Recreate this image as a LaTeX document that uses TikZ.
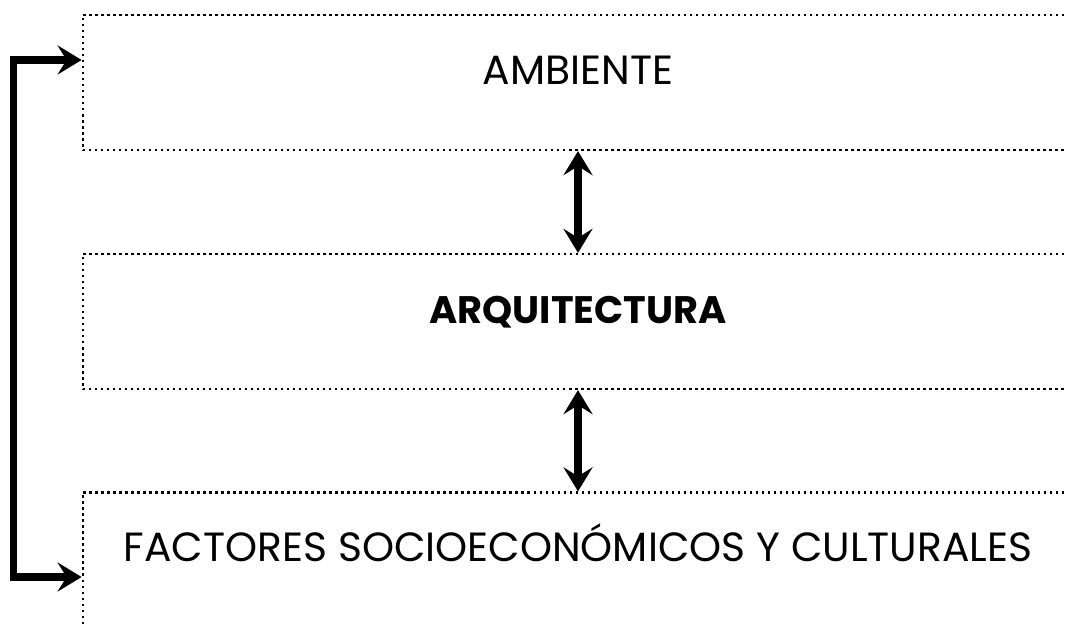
\documentclass[tikz,border=0pt]{standalone}
\usepackage{fontspec}
\setmainfont{Poppins}
\usetikzlibrary{arrows.meta}

\begin{document}
\begin{tikzpicture}[x=0.01cm,y=-0.01cm,
	caja/.style={draw,line width=0.22mm,dash pattern=on 0.25mm off 0.35mm,minimum width=9.9cm,minimum height=1.35cm,text height=3mm,text depth=2.7mm,font=\fontsize{11.6}{14}\selectfont},
	flecha/.style={line width=0.75mm,{Stealth[length=2.4mm,width=2.9mm,inset=0.9mm]}-{Stealth[length=2.4mm,width=2.9mm,inset=0.9mm]}}]
	\useasboundingbox (0,0) rectangle (1067,624);
	\node(ambiente) at (578,82.5)[caja]{AMBIENTE};
	\node(arquitectura) at (578,321.5)[caja,font=\bfseries\fontsize{10.9}{14}\selectfont,text depth=2.6mm]{ARQUITECTURA};
	\node(factores) at (578,560)[caja]{FACTORES SOCIOECONÓMICOS Y CULTURALES};

	\draw[flecha](ambiente.south) -- (arquitectura.north);
	\draw[flecha](arquitectura.south) -- (factores.north);
	\draw[flecha]([yshift=2.25mm]ambiente.west) -- ++(-68,0) |- ([yshift=-1.7mm]factores.west);
\end{tikzpicture}
\end{document}
